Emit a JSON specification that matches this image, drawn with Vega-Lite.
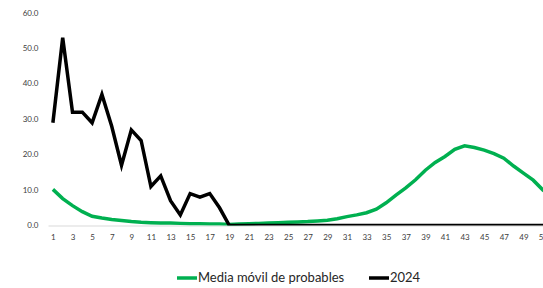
{
  "$schema": "https://vega.github.io/schema/vega-lite/v6.json",
  "autosize": "none",
  "width": 495,
  "height": 212.5,
  "padding": {"left": 48, "top": 13, "right": 0, "bottom": 62.5},
  "background": "white",
  "config": {"view": {"stroke": null}, "font": "Lato"},
  "data": {"values": [
    {"week": 1, "Media móvil de probables": 10.2, "2024": 29},
    {"week": 2, "Media móvil de probables": 7.6, "2024": 53},
    {"week": 3, "Media móvil de probables": 5.6, "2024": 32},
    {"week": 4, "Media móvil de probables": 3.9, "2024": 32},
    {"week": 5, "Media móvil de probables": 2.6, "2024": 29},
    {"week": 6, "Media móvil de probables": 2.1, "2024": 37},
    {"week": 7, "Media móvil de probables": 1.7, "2024": 28},
    {"week": 8, "Media móvil de probables": 1.4, "2024": 17},
    {"week": 9, "Media móvil de probables": 1.1, "2024": 27},
    {"week": 10, "Media móvil de probables": 0.9, "2024": 24},
    {"week": 11, "Media móvil de probables": 0.8, "2024": 11},
    {"week": 12, "Media móvil de probables": 0.7, "2024": 14},
    {"week": 13, "Media móvil de probables": 0.7, "2024": 7},
    {"week": 14, "Media móvil de probables": 0.6, "2024": 3},
    {"week": 15, "Media móvil de probables": 0.5, "2024": 9},
    {"week": 16, "Media móvil de probables": 0.5, "2024": 8},
    {"week": 17, "Media móvil de probables": 0.4, "2024": 9},
    {"week": 18, "Media móvil de probables": 0.4, "2024": 5},
    {"week": 19, "Media móvil de probables": 0.3, "2024": 0},
    {"week": 20, "Media móvil de probables": 0.4, "2024": 0},
    {"week": 21, "Media móvil de probables": 0.5, "2024": 0},
    {"week": 22, "Media móvil de probables": 0.6, "2024": 0},
    {"week": 23, "Media móvil de probables": 0.7, "2024": 0},
    {"week": 24, "Media móvil de probables": 0.8, "2024": 0},
    {"week": 25, "Media móvil de probables": 0.9, "2024": 0},
    {"week": 26, "Media móvil de probables": 1.0, "2024": 0},
    {"week": 27, "Media móvil de probables": 1.1, "2024": 0},
    {"week": 28, "Media móvil de probables": 1.3, "2024": 0},
    {"week": 29, "Media móvil de probables": 1.5, "2024": 0},
    {"week": 30, "Media móvil de probables": 1.9, "2024": 0},
    {"week": 31, "Media móvil de probables": 2.5, "2024": 0},
    {"week": 32, "Media móvil de probables": 3.0, "2024": 0},
    {"week": 33, "Media móvil de probables": 3.6, "2024": 0},
    {"week": 34, "Media móvil de probables": 4.6, "2024": 0},
    {"week": 35, "Media móvil de probables": 6.4, "2024": 0},
    {"week": 36, "Media móvil de probables": 8.6, "2024": 0},
    {"week": 37, "Media móvil de probables": 10.6, "2024": 0},
    {"week": 38, "Media móvil de probables": 12.9, "2024": 0},
    {"week": 39, "Media móvil de probables": 15.6, "2024": 0},
    {"week": 40, "Media móvil de probables": 17.8, "2024": 0},
    {"week": 41, "Media móvil de probables": 19.5, "2024": 0},
    {"week": 42, "Media móvil de probables": 21.5, "2024": 0},
    {"week": 43, "Media móvil de probables": 22.5, "2024": 0},
    {"week": 44, "Media móvil de probables": 22.0, "2024": 0},
    {"week": 45, "Media móvil de probables": 21.3, "2024": 0},
    {"week": 46, "Media móvil de probables": 20.3, "2024": 0},
    {"week": 47, "Media móvil de probables": 19.0, "2024": 0},
    {"week": 48, "Media móvil de probables": 16.8, "2024": 0},
    {"week": 49, "Media móvil de probables": 14.8, "2024": 0},
    {"week": 50, "Media móvil de probables": 12.8, "2024": 0},
    {"week": 51, "Media móvil de probables": 10.0, "2024": 0},
    {"week": 52, "Media móvil de probables": 8.0, "2024": 0}
  ]},
  "transform": [{"fold": ["Media móvil de probables", "2024"], "as": ["serie", "valor"]}],
  "mark": {"type": "line", "strokeWidth": 3.5, "clip": true, "strokeJoin": "miter"},
  "encoding": {
    "x": {
      "field": "week", "type": "quantitative",
      "scale": {"domain": [0.5, 51], "nice": false, "zero": false},
      "axis": {
        "title": null, "values": [1,3,5,7,9,11,13,15,17,19,21,23,25,27,29,31,33,35,37,39,41,43,45,47,49,51],
        "ticks": false, "grid": false, "domainColor": "#d9d9d9", "domainWidth": 1,
        "labelFontSize": 8, "labelColor": "#404040", "labelPadding": 8, "labelFlush": false, "labelOverlap": false
      }
    },
    "y": {
      "field": "valor", "type": "quantitative",
      "scale": {"domain": [0, 60], "nice": false},
      "axis": {
        "title": null, "values": [0,10,20,30,40,50,60], "format": ".1f",
        "ticks": false, "grid": false, "domain": false,
        "labelFontSize": 8, "labelColor": "#404040", "labelPadding": 10
      }
    },
    "color": {
      "field": "serie", "type": "nominal",
      "scale": {"domain": ["Media móvil de probables", "2024"], "range": ["#00B050", "#000000"]},
      "sort": ["Media móvil de probables", "2024"],
      "legend": {
        "title": null, "orient": "none", "direction": "horizontal",
        "legendX": 127, "legendY": 253,
        "symbolType": "stroke", "symbolSize": 400, "symbolStrokeWidth": 3.5,
        "labelFontSize": 13, "labelColor": "#262626", "labelOffset": -1, "columnPadding": 17
      }
    }
  }
}
